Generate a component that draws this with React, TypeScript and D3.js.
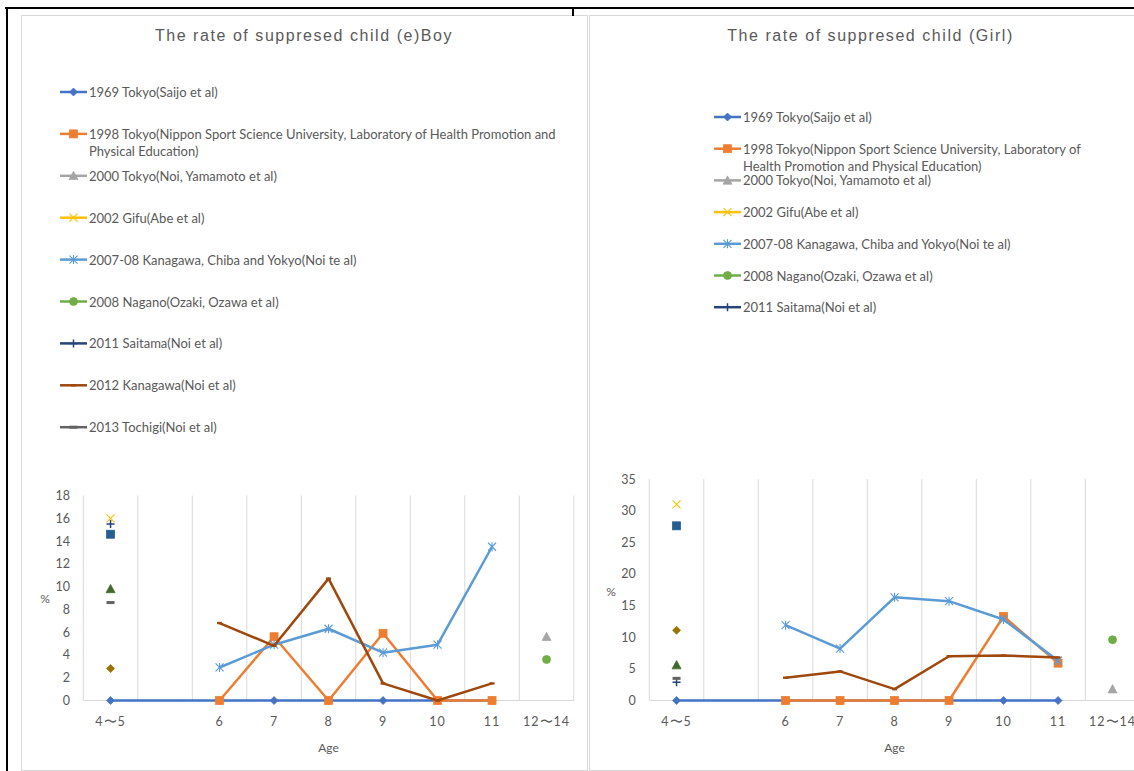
import React from "react";
import * as d3 from "d3";

// ---------- data ----------
const categories = ["4〜5", "", "6", "7", "8", "9", "10", "11", "12〜14"];

const seriesNames = [
  "1969 Tokyo(Saijo et al)",
  "1998 Tokyo(Nippon Sport Science University, Laboratory of Health Promotion and Physical Education)",
  "2000 Tokyo(Noi, Yamamoto et al)",
  "2002 Gifu(Abe et al)",
  "2007-08 Kanagawa, Chiba and Yokyo(Noi te al)",
  "2008 Nagano(Ozaki, Ozawa et al)",
  "2011 Saitama(Noi et al)",
  "2012 Kanagawa(Noi et al)",
  "2013 Tochigi(Noi et al)",
  "Series 10",
  "Series 11",
  "Series 12",
];

const boyYTicks = [0, 2, 4, 6, 8, 10, 12, 14, 16, 18];
const girlYTicks = [0, 5, 10, 15, 20, 25, 30, 35];

const boy1969 = [0, null, 0, 0, 0, 0, 0, 0, null];
const boy1998 = [null, null, 0, 5.6, 0, 5.9, 0, 0, null];
const boy2000 = [null, null, null, null, null, null, null, null, 5.6];
const boy2002 = [16, null, null, null, null, null, null, null, null];
const boy2007 = [null, null, 2.9, 4.9, 6.3, 4.2, 4.9, 13.5, null];
const boy2008 = [null, null, null, null, null, null, null, null, 3.6];
const boy2011 = [15.5, null, null, null, null, null, null, null, null];
const boy2012 = [null, null, 6.8, 4.8, 10.7, 1.5, 0, 1.5, null];
const boy2013 = [8.6, null, null, null, null, null, null, null, null];
const boyS10 = [2.8, null, null, null, null, null, null, null, null];
const boyS11 = [14.6, null, null, null, null, null, null, null, null];
const boyS12 = [9.8, null, null, null, null, null, null, null, null];

const girl1969 = [0, null, 0, 0, 0, 0, 0, 0, null];
const girl1998 = [null, null, 0, 0, 0, 0, 13.3, 5.9, null];
const girl2000 = [null, null, null, null, null, null, null, null, 1.8];
const girl2002 = [31, null, null, null, null, null, null, null, null];
const girl2007 = [null, null, 11.9, 8.2, 16.3, 15.7, 12.8, 6.3, null];
const girl2008 = [null, null, null, null, null, null, null, null, 9.6];
const girl2011 = [2.9, null, null, null, null, null, null, null, null];
const girl2012 = [null, null, 3.6, 4.6, 1.8, 7.0, 7.1, 6.8, null];
const girl2013 = [3.5, null, null, null, null, null, null, null, null];
const girlS10 = [11.1, null, null, null, null, null, null, null, null];
const girlS11 = [27.6, null, null, null, null, null, null, null, null];
const girlS12 = [5.6, null, null, null, null, null, null, null, null];

const boySeries = [boy1969, boy1998, boy2000, boy2002, boy2007, boy2008, boy2011, boy2012, boy2013, boyS10, boyS11, boyS12];
const girlSeries = [girl1969, girl1998, girl2000, girl2002, girl2007, girl2008, girl2011, girl2012, girl2013, girlS10, girlS11, girlS12];

// ---------- styles ----------
const seriesColors = ["#4472C4", "#ED7D31", "#A5A5A5", "#FFC000", "#5B9BD5", "#70AD47", "#264478", "#9E480E", "#636363", "#997300", "#255E91", "#43682B"];
const seriesMarkers = ["diamond", "square", "triangle", "x", "star", "circle", "plus", "dashS", "dash", "diamond", "square", "triangle"];

const TEXT = "#595959";
const GRID = "#D9D9D9";
const LEGEND_FONT = "Lato";
const LEGEND_SIZE = 13;

let measureCtx: CanvasRenderingContext2D | null = null;
function measure(text: string, font: string) {
  if (!measureCtx && typeof document !== "undefined") {
    measureCtx = document.createElement("canvas").getContext("2d");
  }
  if (!measureCtx) return text.length * 6;
  measureCtx.font = font;
  return measureCtx.measureText(text).width;
}
function wrapText(text: string, font: string, max: number) {
  const words = text.split(" ");
  const lines: string[] = [];
  let cur = "";
  for (const w of words) {
    const t = cur ? cur + " " + w : w;
    if (cur && measure(t, font) > max) {
      lines.push(cur);
      cur = w;
    } else cur = t;
  }
  if (cur) lines.push(cur);
  return lines;
}

function Marker({ kind, color, x, y }: { kind: string; color: string; x: number; y: number }) {
  const t = `translate(${x},${y})`;
  switch (kind) {
    case "diamond":
      return <path transform={t} d="M0,-4L4,0L0,4L-4,0Z" fill={color} stroke={color} strokeWidth={0.75} />;
    case "square":
      return <rect transform={t} x={-4} y={-4} width={8} height={8} fill={color} stroke={color} strokeWidth={0.75} />;
    case "triangle":
      return <path transform={t} d="M0,-4.5L4.5,3.8L-4.5,3.8Z" fill={color} stroke={color} strokeWidth={0.75} />;
    case "circle":
      return <circle transform={t} r={4} fill={color} stroke={color} strokeWidth={0.75} />;
    case "x":
      return <path transform={t} d="M-4,-4L4,4M-4,4L4,-4" fill="none" stroke={color} strokeWidth={1.1} />;
    case "star":
      return <path transform={t} d="M-4,-4L4,4M-4,4L4,-4M0,-4.5L0,4.5" fill="none" stroke={color} strokeWidth={1.1} />;
    case "plus":
      return <path transform={t} d="M-4,0L4,0M0,-4L0,4" fill="none" stroke={color} strokeWidth={1.5} />;
    case "dashS":
      return <rect transform={t} x={-2.5} y={-1.2} width={5} height={2.4} fill={color} />;
    case "dash":
      return <rect transform={t} x={-4} y={-1.5} width={8} height={3} fill={color} />;
    default:
      return null;
  }
}

type ChartProps = {
  title: string;
  titleX: number;
  plotLeft: number;
  plotTop: number;
  yTicks: number[];
  series: (number | null)[][];
  legendCount: number;
  legendX: number;
  legendY: number;
  legendStep: number;
  legendWrap: number;
  percentX: number;
  percentY: number;
  tickRight: number;
};

function Chart(p: ChartProps) {
  const bandW = 54.5;
  const x = d3.scaleBand<string>().domain(categories.map((_, i) => String(i))).range([p.plotLeft, p.plotLeft + bandW * categories.length]).padding(0);
  const yMax = p.yTicks[p.yTicks.length - 1];
  const y = d3.scaleLinear().domain([0, yMax]).range([700.5, p.plotTop]);
  const cx = (i: number) => (x(String(i)) as number) + x.bandwidth() / 2;
  const line = d3.line<[number, number]>().x((d) => cx(d[0])).y((d) => y(d[1]));
  const font = `${LEGEND_SIZE}px ${LEGEND_FONT}`;
  const ageX = cx(4);

  return (
    <g>
      <text x={p.titleX} y={35.5} textAnchor="middle" dominantBaseline="central" fill={TEXT} fontFamily="Liberation Sans, Arial" fontSize={16} letterSpacing={1.55}>
        {p.title}
      </text>
      {/* legend */}
      {seriesNames.slice(0, p.legendCount).map((name, i) => {
        const ly = p.legendY + i * p.legendStep;
        const lines = wrapText(name, font, p.legendWrap);
        return (
          <g key={i}>
            <line x1={p.legendX} x2={p.legendX + 27} y1={ly} y2={ly} stroke={seriesColors[i]} strokeWidth={2.5} />
            <Marker kind={seriesMarkers[i]} color={seriesColors[i]} x={p.legendX + 13.5} y={ly} />
            {lines.map((ln, j) => (
              <text key={j} x={p.legendX + 29} y={ly + j * 17.5} dominantBaseline="central" fill={TEXT} fontFamily={LEGEND_FONT} fontSize={LEGEND_SIZE}>
                {ln}
              </text>
            ))}
          </g>
        );
      })}
      {/* grid */}
      {d3.range(categories.length + 1).map((i) => {
        const gx = p.plotLeft + i * x.bandwidth();
        return <line key={i} x1={gx} x2={gx} y1={p.plotTop} y2={y(0)} stroke={GRID} strokeWidth={1} />;
      })}
      <line x1={p.plotLeft} x2={p.plotLeft + x.bandwidth() * categories.length} y1={y(0)} y2={y(0)} stroke={GRID} strokeWidth={1.2} />
      {/* y ticks */}
      {p.yTicks.map((t) => (
        <text key={t} x={p.tickRight} y={y(t)} textAnchor="end" dominantBaseline="central" fill={TEXT} fontFamily={LEGEND_FONT} fontSize={12.5}>
          {t}
        </text>
      ))}
      {categories.map((c, i) => (
        <text key={i} x={cx(i)} y={721} textAnchor="middle" dominantBaseline="central" fill={TEXT} fontFamily={LEGEND_FONT} fontSize={12.5} letterSpacing={1}>
          {c}
        </text>
      ))}
      <text x={p.percentX} y={p.percentY} textAnchor="middle" dominantBaseline="central" fill={TEXT} fontFamily={LEGEND_FONT} fontSize={12}>
        %
      </text>
      <text x={ageX} y={747} textAnchor="middle" dominantBaseline="central" fill={TEXT} fontFamily={LEGEND_FONT} fontSize={12}>
        Age
      </text>
      {/* series */}
      {p.series.map((vals, si) => {
        const pts = vals.map((v, i) => [i, v] as [number, number | null]).filter((d) => d[1] !== null) as [number, number][];
        return (
          <g key={si}>
            {pts.length > 1 && <path d={line(pts) || ""} fill="none" stroke={seriesColors[si]} strokeWidth={2.5} strokeLinejoin="round" />}
            {pts.map((d, k) => (
              <Marker key={k} kind={seriesMarkers[si]} color={seriesColors[si]} x={cx(d[0])} y={y(d[1])} />
            ))}
          </g>
        );
      })}
    </g>
  );
}

export default function App() {
  return (
    <div style={{ position: "absolute", left: 0, top: 0 }}>
      <svg width={1134} height={771} style={{ display: "block", background: "#fff" }}>
        <rect x={0} y={0} width={1134} height={771} fill="#fff" />
        {/* panels */}
        <rect x={21.5} y={15.5} width={566} height={755} fill="#fff" stroke={GRID} strokeWidth={1} />
        <rect x={589.5} y={15.5} width={600} height={755} fill="#fff" stroke={GRID} strokeWidth={1} />
        {/* outer frame */}
        <line x1={5} x2={1134} y1={8} y2={8} stroke="#000" strokeWidth={2} />
        <line x1={7} x2={7} y1={7} y2={771} stroke="#000" strokeWidth={2} />
        <line x1={573} x2={573} y1={8} y2={16} stroke="#000" strokeWidth={2} />
        <Chart
          title="The rate of suppresed child (e)Boy"
          titleX={304}
          plotLeft={83.3}
          plotTop={495.5}
          yTicks={boyYTicks}
          series={boySeries}
          legendCount={9}
          legendX={60}
          legendY={92}
          legendStep={41.9}
          legendWrap={470}
          percentX={45}
          percentY={598}
          tickRight={70}
        />
        <Chart
          title="The rate of suppresed child (Girl)"
          titleX={870.5}
          plotLeft={649.3}
          plotTop={479}
          yTicks={girlYTicks}
          series={girlSeries}
          legendCount={7}
          legendX={714}
          legendY={117}
          legendStep={31.7}
          legendWrap={345}
          percentX={611}
          percentY={591}
          tickRight={635.7}
        />
      </svg>
    </div>
  );
}
